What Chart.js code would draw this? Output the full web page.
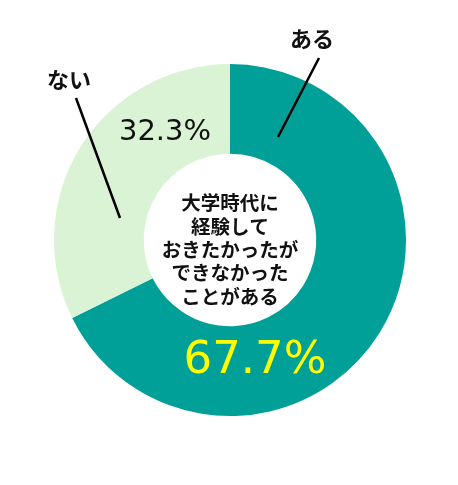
<!DOCTYPE html>
<html>
<head>
<meta charset="utf-8">
<script src="https://cdn.jsdelivr.net/npm/chart.js@4/dist/chart.umd.min.js"></script>
<style>
  html, body { margin: 0; padding: 0; background: #fff; }
  #wrap { width: 458px; height: 485px; position: relative; }
</style>
</head>
<body>
<div id="wrap"><canvas id="donut"></canvas></div>
<script>
// ── data ──
const categories = ['ある', 'ない'];
const values = [67.7, 32.3];
const valueLabels = ['67.7%', '32.3%'];
const centerLines = ['大学時代に', '経験して', 'おきたかったが', 'できなかった', 'ことがある'];
const colors = ['#009f97', '#dbf3d5'];

const JP = "'Noto Sans CJK JP', 'Noto Sans', sans-serif";

// labels + leader lines + center text
const overlay = {
  id: 'overlay',
  afterDraw(chart) {
    const ctx = chart.ctx;
    const arc = chart.getDatasetMeta(0).data[0];
    const cx = arc.x, cy = arc.y;

    ctx.save();
    ctx.textAlign = 'center';
    ctx.textBaseline = 'middle';

    // center text
    ctx.fillStyle = '#111';
    ctx.font = `bold 19.5px ${JP}`;
    centerLines.forEach((t, i) => {
      ctx.fillText(t, cx, cy - 37 + i * 23.3);
    });

    // percent labels
    ctx.fillStyle = '#ffff00';
    ctx.font = "45px 'DejaVu Sans', sans-serif";
    ctx.fillText(valueLabels[0], cx + 25, cy + 121);
    ctx.fillStyle = '#111';
    ctx.font = "29px 'DejaVu Sans', sans-serif";
    ctx.fillText(valueLabels[1], cx - 65, cy - 108);

    // category labels
    ctx.font = `bold 22px ${JP}`;
    ctx.fillText(categories[0], 312, 39);
    ctx.fillText(categories[1], 69, 80);

    // leader lines
    ctx.strokeStyle = '#000';
    ctx.lineWidth = 2.5;
    ctx.beginPath();
    ctx.moveTo(319, 58); ctx.lineTo(278, 137);
    ctx.moveTo(76, 98); ctx.lineTo(120, 218);
    ctx.stroke();
    ctx.restore();
  }
};

new Chart(document.getElementById('donut'), {
  type: 'doughnut',
  data: {
    labels: categories,
    datasets: [{
      data: values,
      backgroundColor: colors,
      borderWidth: 0,
    }]
  },
  options: {
    responsive: true,
    maintainAspectRatio: false,
    animation: false,
    cutout: '49%',
    layout: { padding: { left: 54, right: 52, top: 64, bottom: 69 } },
    plugins: {
      legend: { display: false },
      tooltip: { enabled: false }
    }
  },
  plugins: [overlay]
});
</script>
</body>
</html>
